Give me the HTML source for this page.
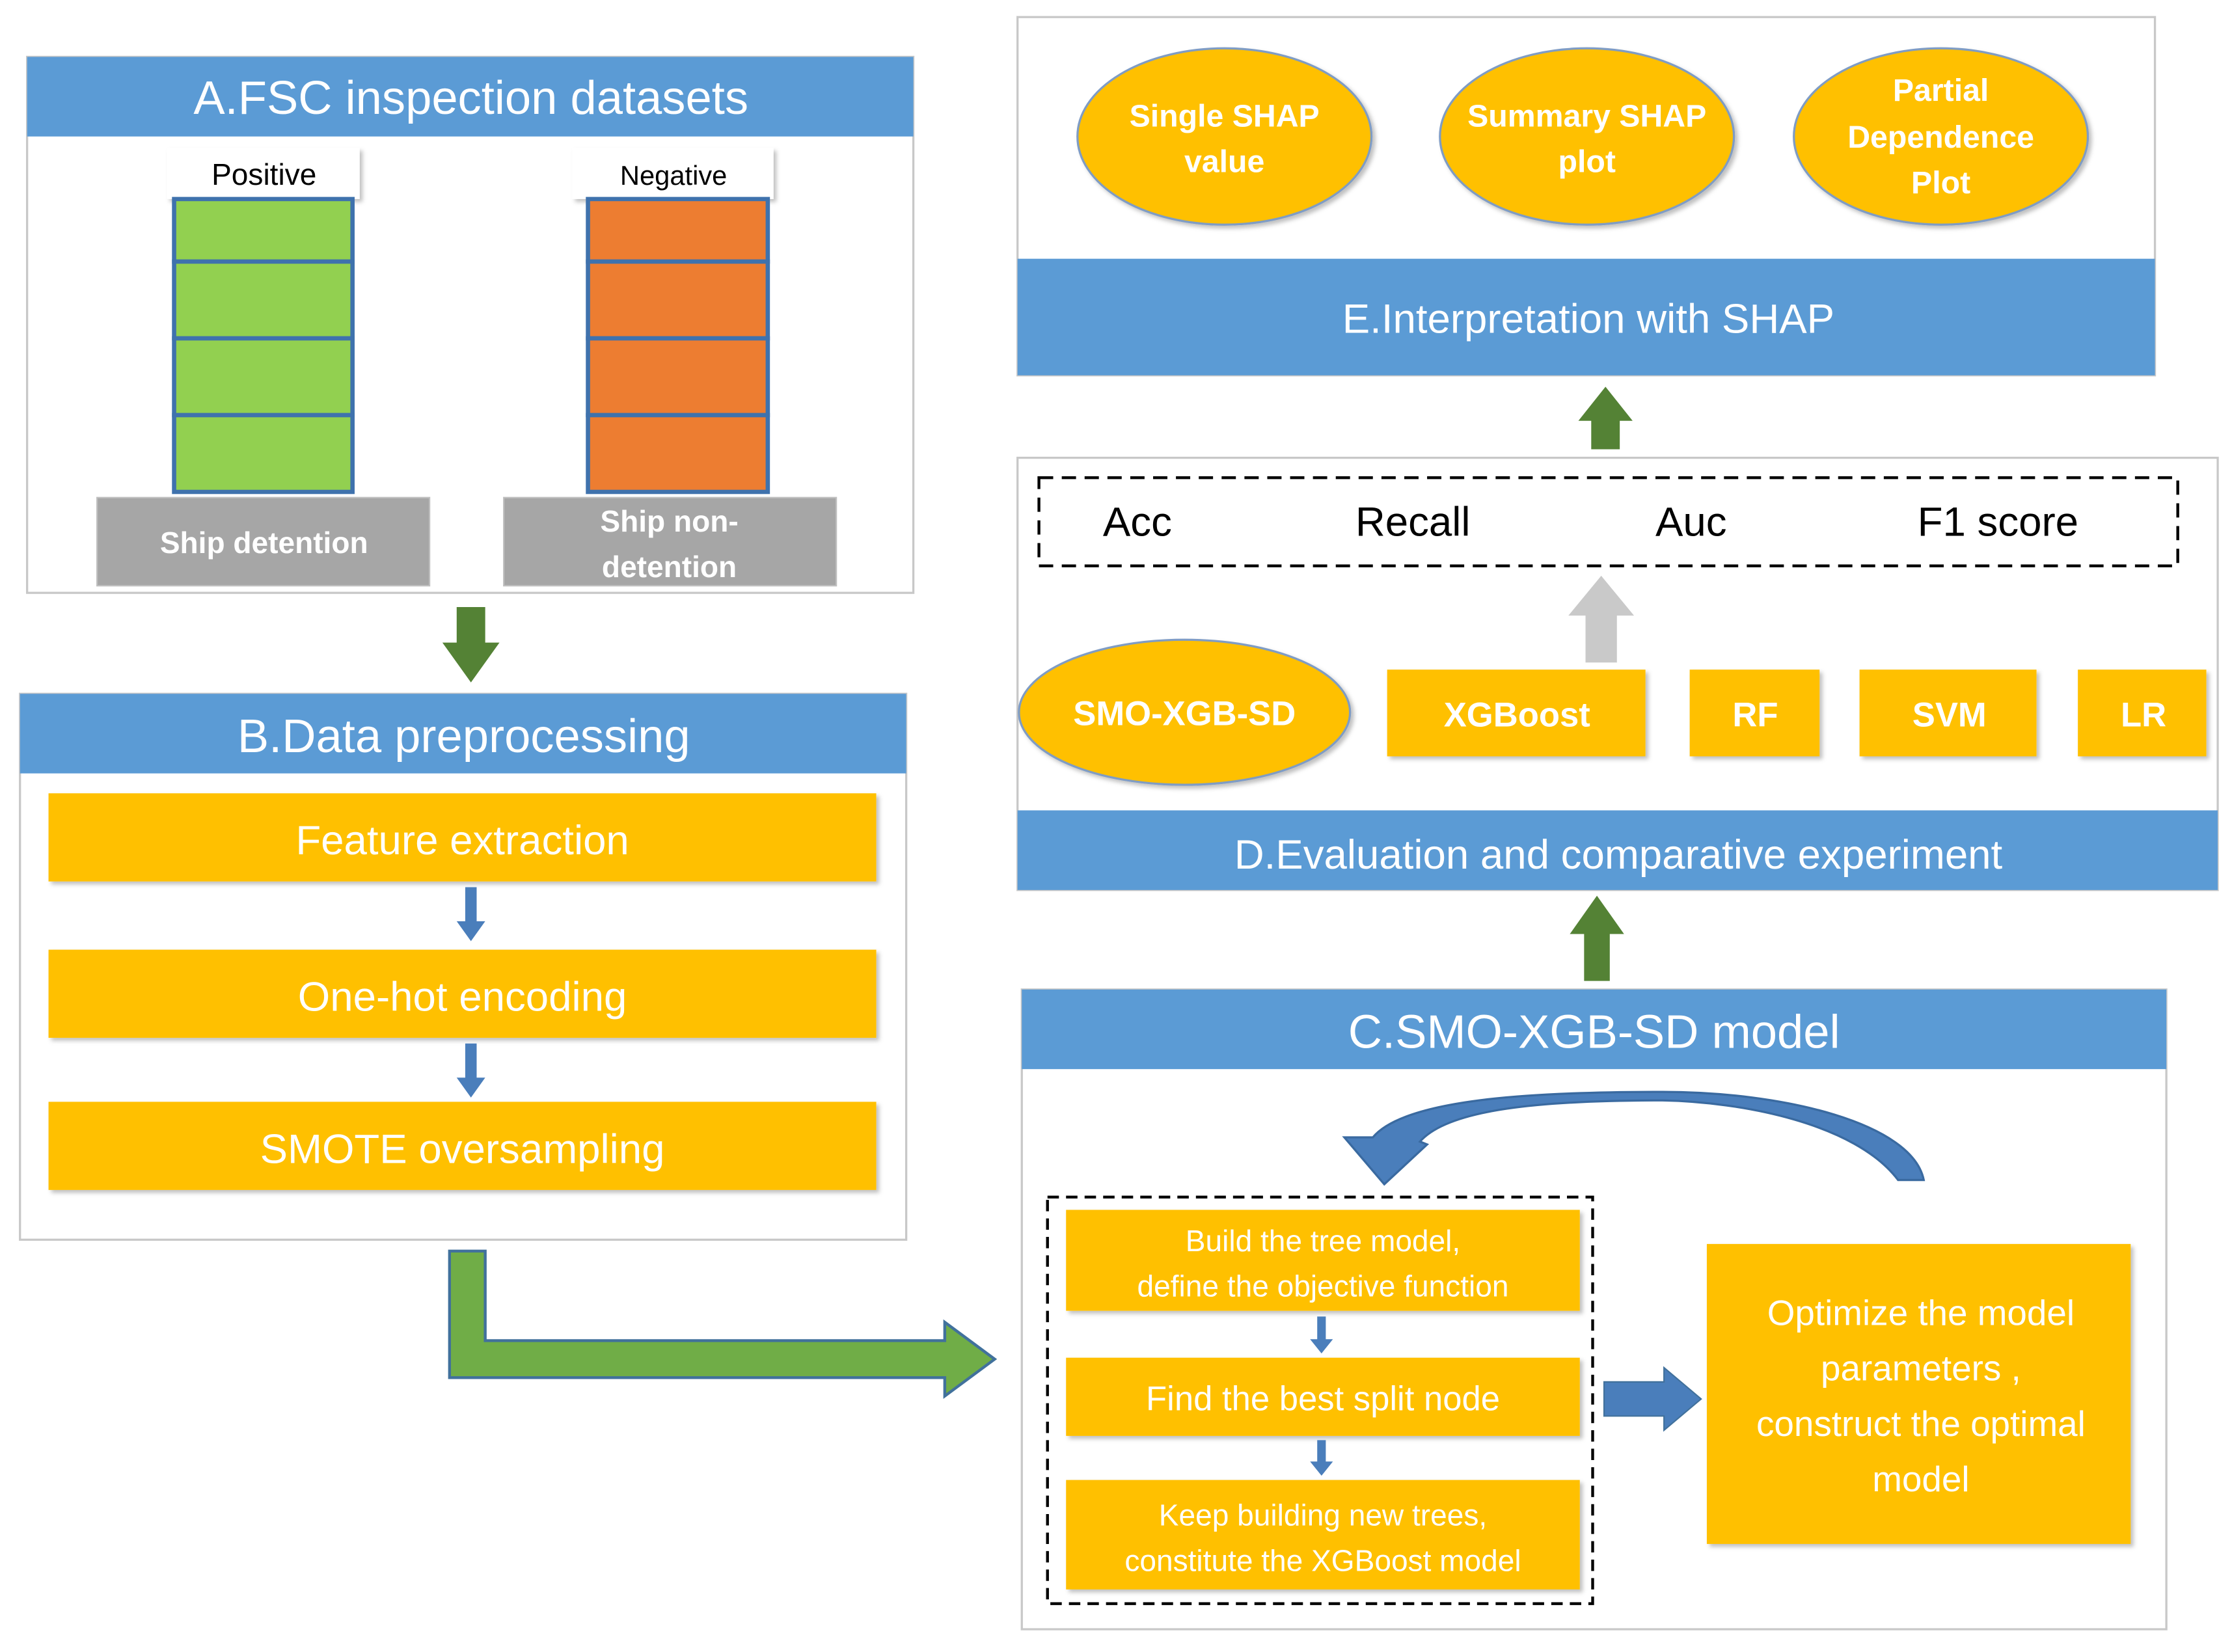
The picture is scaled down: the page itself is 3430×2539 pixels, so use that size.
<!DOCTYPE html>
<html><head><meta charset="utf-8"><style>
html,body{margin:0;padding:0;background:#fff;}
svg{display:block;}
text{font-family:"Liberation Sans",sans-serif;}
</style></head><body>
<svg width="3430" height="2539" viewBox="0 0 1564 1162" preserveAspectRatio="none" xmlns="http://www.w3.org/2000/svg">
<defs>
<filter id="sh" x="-5%" y="-5%" width="115%" height="120%"><feDropShadow dx="2" dy="2" stdDeviation="1.5" flood-color="#000" flood-opacity="0.25"/></filter>
</defs>
<!-- A panel -->
<rect x="19" y="40" width="621" height="377" fill="#fff" stroke="#c8c8c8" stroke-width="1.5"/>
<rect x="19" y="40" width="621" height="56" fill="#5b9bd5"/>
<text x="330" y="80" font-size="33" fill="#fff" text-anchor="middle">A.FSC inspection datasets</text>
<rect x="117" y="104" width="135" height="36" fill="#fff" filter="url(#sh)"/>
<text x="185" y="130" font-size="21" text-anchor="middle">Positive</text>
<rect x="401" y="104" width="141" height="36" fill="#fff" filter="url(#sh)"/>
<text x="472" y="130" font-size="19" text-anchor="middle">Negative</text>
<g stroke="#3f72ad" stroke-width="3">
<rect x="122" y="140" width="125" height="44" fill="#92d050"/>
<rect x="122" y="184" width="125" height="54" fill="#92d050"/>
<rect x="122" y="238" width="125" height="54" fill="#92d050"/>
<rect x="122" y="292" width="125" height="54" fill="#92d050"/>
<rect x="412" y="140" width="126" height="44" fill="#ed7d31"/>
<rect x="412" y="184" width="126" height="54" fill="#ed7d31"/>
<rect x="412" y="238" width="126" height="54" fill="#ed7d31"/>
<rect x="412" y="292" width="126" height="54" fill="#ed7d31"/>
</g>
<rect x="68" y="350" width="233" height="62" fill="#a6a6a6" stroke="#bfbfbf"/>
<text x="185" y="389" font-size="21" font-weight="bold" fill="#fff" text-anchor="middle">Ship detention</text>
<rect x="353" y="350" width="233" height="62" fill="#a6a6a6" stroke="#bfbfbf"/>
<text x="469" y="374" font-size="21" font-weight="bold" fill="#fff" text-anchor="middle">Ship non-</text>
<text x="469" y="406" font-size="21" font-weight="bold" fill="#fff" text-anchor="middle">detention</text>
<polygon points="320,427 340,427 340,452 350,452 330,480 310,452 320,452" fill="#548235"/>
<!-- B panel -->
<rect x="14" y="488" width="621" height="384" fill="#fff" stroke="#c8c8c8" stroke-width="1.5"/>
<rect x="14" y="488" width="621" height="56" fill="#5b9bd5"/>
<text x="325" y="529" font-size="33" fill="#fff" text-anchor="middle">B.Data preprocessing</text>
<rect x="34" y="558" width="580" height="62" fill="#ffc000" filter="url(#sh)"/>
<text x="324" y="601" font-size="29" fill="#fff" text-anchor="middle">Feature extraction</text>
<rect x="34" y="668" width="580" height="62" fill="#ffc000" filter="url(#sh)"/>
<text x="324" y="711" font-size="29" fill="#fff" text-anchor="middle">One-hot encoding</text>
<rect x="34" y="775" width="580" height="62" fill="#ffc000" filter="url(#sh)"/>
<text x="324" y="818" font-size="29" fill="#fff" text-anchor="middle">SMOTE oversampling</text>
<polygon points="326,624 334,624 334,648 340,648 330,662 320,648 326,648" fill="#4a7ebb"/>
<polygon points="326,734 334,734 334,758 340,758 330,772 320,758 326,758" fill="#4a7ebb"/>
<polygon points="315,880 340,880 340,943 662,943 662,930 697,956 662,982 662,969 315,969" fill="#70ad47" stroke="#41719c" stroke-width="2"/>
<!-- C panel -->
<rect x="716" y="696" width="802" height="450" fill="#fff" stroke="#c8c8c8" stroke-width="1.5"/>
<rect x="716" y="696" width="802" height="56" fill="#5b9bd5"/>
<text x="1117" y="737" font-size="33" fill="#fff" text-anchor="middle">C.SMO-XGB-SD model</text>
<rect x="734" y="842" width="382" height="286" fill="none" stroke="#000" stroke-width="2" stroke-dasharray="8,5"/>
<rect x="747" y="851" width="360" height="71" fill="#ffc000" filter="url(#sh)"/>
<text x="927" y="880" font-size="21" fill="#fff" text-anchor="middle">Build the tree model,</text>
<text x="927" y="912" font-size="21" fill="#fff" text-anchor="middle">define the objective function</text>
<rect x="747" y="955" width="360" height="55" fill="#ffc000" filter="url(#sh)"/>
<text x="927" y="992" font-size="24" fill="#fff" text-anchor="middle">Find the best split node</text>
<rect x="747" y="1041" width="360" height="77" fill="#ffc000" filter="url(#sh)"/>
<text x="927" y="1073" font-size="21" fill="#fff" text-anchor="middle">Keep building new trees,</text>
<text x="927" y="1105" font-size="21" fill="#fff" text-anchor="middle">constitute the XGBoost model</text>
<polygon points="923,926 929,926 929,942 934,942 926,952 918,942 923,942" fill="#4a7ebb"/>
<polygon points="923,1013 929,1013 929,1028 934,1028 926,1038 918,1028 923,1028" fill="#4a7ebb"/>
<rect x="1196" y="875" width="297" height="211" fill="#ffc000" filter="url(#sh)"/>
<text x="1346" y="932" font-size="25" fill="#fff" text-anchor="middle">Optimize the model</text>
<text x="1346" y="971" font-size="25" fill="#fff" text-anchor="middle">parameters ,</text>
<text x="1346" y="1010" font-size="25" fill="#fff" text-anchor="middle">construct the optimal</text>
<text x="1346" y="1049" font-size="25" fill="#fff" text-anchor="middle">model</text>
<polygon points="1124,972 1166,972 1166,962 1192,984 1166,1006 1166,996 1124,996" fill="#4a7ebb" stroke="#41719c"/>
<!-- curved arrow -->
<path d="M1348,830 L1330,830 C1300,790 1220,775 1165,774 C1080,774 1015,780 995,803 L1000,805 L970,833 L942,800 L962,800 C985,772 1080,768 1165,768 C1250,768 1340,790 1348,830 Z" fill="#4a7ebb" stroke="#3a6aa0" stroke-width="1.5"/>
<polygon points="1110,690 1128,690 1128,657 1138,657 1119,630 1100,657 1110,657" fill="#548235"/>
<!-- D panel -->
<rect x="713" y="322" width="841" height="304" fill="#fff" stroke="#c8c8c8" stroke-width="1.5"/>
<rect x="713" y="570" width="841" height="56" fill="#5b9bd5"/>
<text x="1134" y="611" font-size="29" fill="#fff" text-anchor="middle">D.Evaluation and comparative experiment</text>
<rect x="728" y="336" width="798" height="62" fill="none" stroke="#000" stroke-width="2" stroke-dasharray="10,6"/>
<text x="797" y="377" font-size="29" text-anchor="middle">Acc</text>
<text x="990" y="377" font-size="29" text-anchor="middle">Recall</text>
<text x="1185" y="377" font-size="29" text-anchor="middle">Auc</text>
<text x="1400" y="377" font-size="29" text-anchor="middle">F1 score</text>
<polygon points="1111,466 1133,466 1133,433 1145,433 1122,405 1099,433 1111,433" fill="#c9c9c9"/>
<ellipse cx="830" cy="501" rx="116" ry="51" fill="#ffc000" stroke="#7f9cc4" stroke-width="1.5" filter="url(#sh)"/>
<text x="830" y="510" font-size="24" font-weight="bold" fill="#fff" text-anchor="middle">SMO-XGB-SD</text>
<rect x="972" y="471" width="181" height="61" fill="#ffc000" filter="url(#sh)"/>
<text x="1063" y="511" font-size="24" font-weight="bold" fill="#fff" text-anchor="middle">XGBoost</text>
<rect x="1184" y="471" width="91" height="61" fill="#ffc000" filter="url(#sh)"/>
<text x="1230" y="511" font-size="24" font-weight="bold" fill="#fff" text-anchor="middle">RF</text>
<rect x="1303" y="471" width="124" height="61" fill="#ffc000" filter="url(#sh)"/>
<text x="1366" y="511" font-size="24" font-weight="bold" fill="#fff" text-anchor="middle">SVM</text>
<rect x="1456" y="471" width="90" height="61" fill="#ffc000" filter="url(#sh)"/>
<text x="1502" y="511" font-size="24" font-weight="bold" fill="#fff" text-anchor="middle">LR</text>
<polygon points="1115,316 1135,316 1135,296 1144,296 1125,272 1106,296 1115,296" fill="#548235"/>
<!-- E panel -->
<rect x="713" y="12" width="797" height="252" fill="#fff" stroke="#c8c8c8" stroke-width="1.5"/>
<rect x="713" y="182" width="797" height="82" fill="#5b9bd5"/>
<text x="1113" y="234" font-size="29" fill="#fff" text-anchor="middle">E.Interpretation with SHAP</text>
<ellipse cx="858" cy="96" rx="103" ry="62" fill="#ffc000" stroke="#7f9cc4" stroke-width="1.5" filter="url(#sh)"/>
<text x="858" y="89" font-size="22" font-weight="bold" fill="#fff" text-anchor="middle">Single SHAP</text>
<text x="858" y="121" font-size="22" font-weight="bold" fill="#fff" text-anchor="middle">value</text>
<ellipse cx="1112" cy="96" rx="103" ry="62" fill="#ffc000" stroke="#7f9cc4" stroke-width="1.5" filter="url(#sh)"/>
<text x="1112" y="89" font-size="22" font-weight="bold" fill="#fff" text-anchor="middle">Summary SHAP</text>
<text x="1112" y="121" font-size="22" font-weight="bold" fill="#fff" text-anchor="middle">plot</text>
<ellipse cx="1360" cy="96" rx="103" ry="62" fill="#ffc000" stroke="#7f9cc4" stroke-width="1.5" filter="url(#sh)"/>
<text x="1360" y="71" font-size="22" font-weight="bold" fill="#fff" text-anchor="middle">Partial</text>
<text x="1360" y="104" font-size="22" font-weight="bold" fill="#fff" text-anchor="middle">Dependence</text>
<text x="1360" y="136" font-size="22" font-weight="bold" fill="#fff" text-anchor="middle">Plot</text>
</svg>
</body></html>
